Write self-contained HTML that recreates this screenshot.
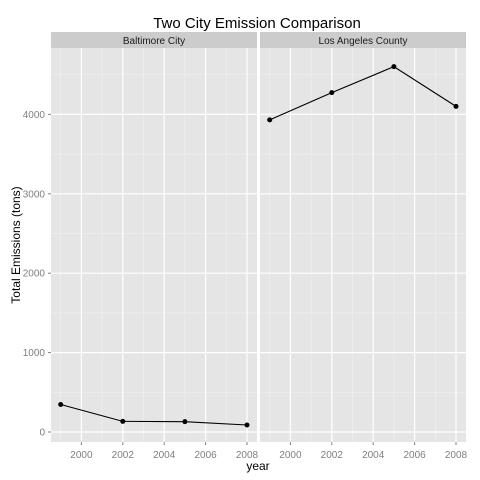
<!DOCTYPE html>
<html><head><meta charset="utf-8"><style>
body{margin:0;background:#fff;}
svg{display:block;font-family:"Liberation Sans",Arial,sans-serif;}
</style></head><body>
<svg id="chart" width="480" height="480"></svg>
<script>
const years=[1999,2002,2005,2008];
const panels=["Baltimore City","Los Angeles County"];
const baltimore=[346,134,130,88];
const losAngeles=[3931,4274,4602,4101];
const yTicks=[0,1000,2000,3000,4000];
const xTicks=[2000,2002,2004,2006,2008];
const series=[baltimore,losAngeles];

const NS="http://www.w3.org/2000/svg";
const svg=document.getElementById('chart');
function mk(t,a,p){const e=document.createElementNS(NS,t);for(const k in a)e.setAttribute(k,a[k]);(p||svg).appendChild(e);return e;}
const plotTop=48,plotBottom=442;
const panelX=[51,260],panelW=206;
function y(v){return 432-v*0.0794;}
function x(p,yr){return panelX[p]+9.7+(yr-1999)*20.7;}

let t=mk('text',{x:257,y:28,'text-anchor':'middle','font-size':15,fill:'#000'});t.textContent='Two City Emission Comparison';



for(let p=0;p<2;p++){
  const g=mk('g',{});
  
  
  mk('rect',{x:panelX[p],y:plotTop,width:panelW,height:plotBottom-plotTop,fill:'#e5e5e5'},g);
  for(let i=0;i<yTicks.length;i++){const v=yTicks[i]+500;const yy=y(v);if(yy>plotTop)mk('line',{x1:panelX[p],x2:panelX[p]+panelW,y1:yy,y2:yy,stroke:'#f2f2f2','stroke-width':0.5},g);}
  for(let i=0;i<xTicks.length;i++){const xx=x(p,xTicks[i]-1);if(xx>panelX[p])mk('line',{x1:xx,x2:xx,y1:plotTop,y2:plotBottom,stroke:'#f2f2f2','stroke-width':0.5},g);}
  for(const v of yTicks){mk('line',{x1:panelX[p],x2:panelX[p]+panelW,y1:y(v),y2:y(v),stroke:'#fff','stroke-width':1.2},g);}
  for(const v of xTicks){const xx=x(p,v);mk('line',{x1:xx,x2:xx,y1:plotTop,y2:plotBottom,stroke:'#fff','stroke-width':1.2},g);
    mk('line',{x1:xx,x2:xx,y1:plotBottom,y2:plotBottom+3,stroke:'#7f7f7f'},g);
    const tl=mk('text',{x:xx,y:plotBottom+16,'text-anchor':'middle','font-size':10,fill:'#7f7f7f'},g);tl.textContent=v;
    
    }
  mk('rect',{x:panelX[p],y:32,width:panelW,height:16,fill:'#cccccc'},g);
  const st=mk('text',{x:panelX[p]+panelW/2,y:44,'text-anchor':'middle','font-size':10,fill:'#1a1a1a'},g);st.textContent=panels[p];
  
  
  const d=series[p];
  const pts=d.map((v,i)=>x(p,years[i])+','+y(v)).join(' ');
  const ln=mk('polyline',{points:pts,fill:'none',stroke:'#000','stroke-width':1.1},g);
  
  
  d.forEach((v,i)=>{const c=mk('circle',{cx:x(p,years[i]),cy:y(v),r:2.5,fill:'#000'},g);
    
    });
}
for(const v of yTicks){
  mk('line',{x1:48,x2:51,y1:y(v),y2:y(v),stroke:'#7f7f7f'});
  const tl=mk('text',{x:45,y:y(v)+3.5,'text-anchor':'end','font-size':10,fill:'#7f7f7f'});tl.textContent=v;
  
  
}
const xt=mk('text',{x:258,y:470,'text-anchor':'middle','font-size':12,fill:'#000'});xt.textContent='year';


const yt=mk('text',{x:0,y:0,'text-anchor':'middle','font-size':12,fill:'#000',transform:'translate(20,245) rotate(-90)'});yt.textContent='Total Emissions (tons)';


</script>
</body></html>
